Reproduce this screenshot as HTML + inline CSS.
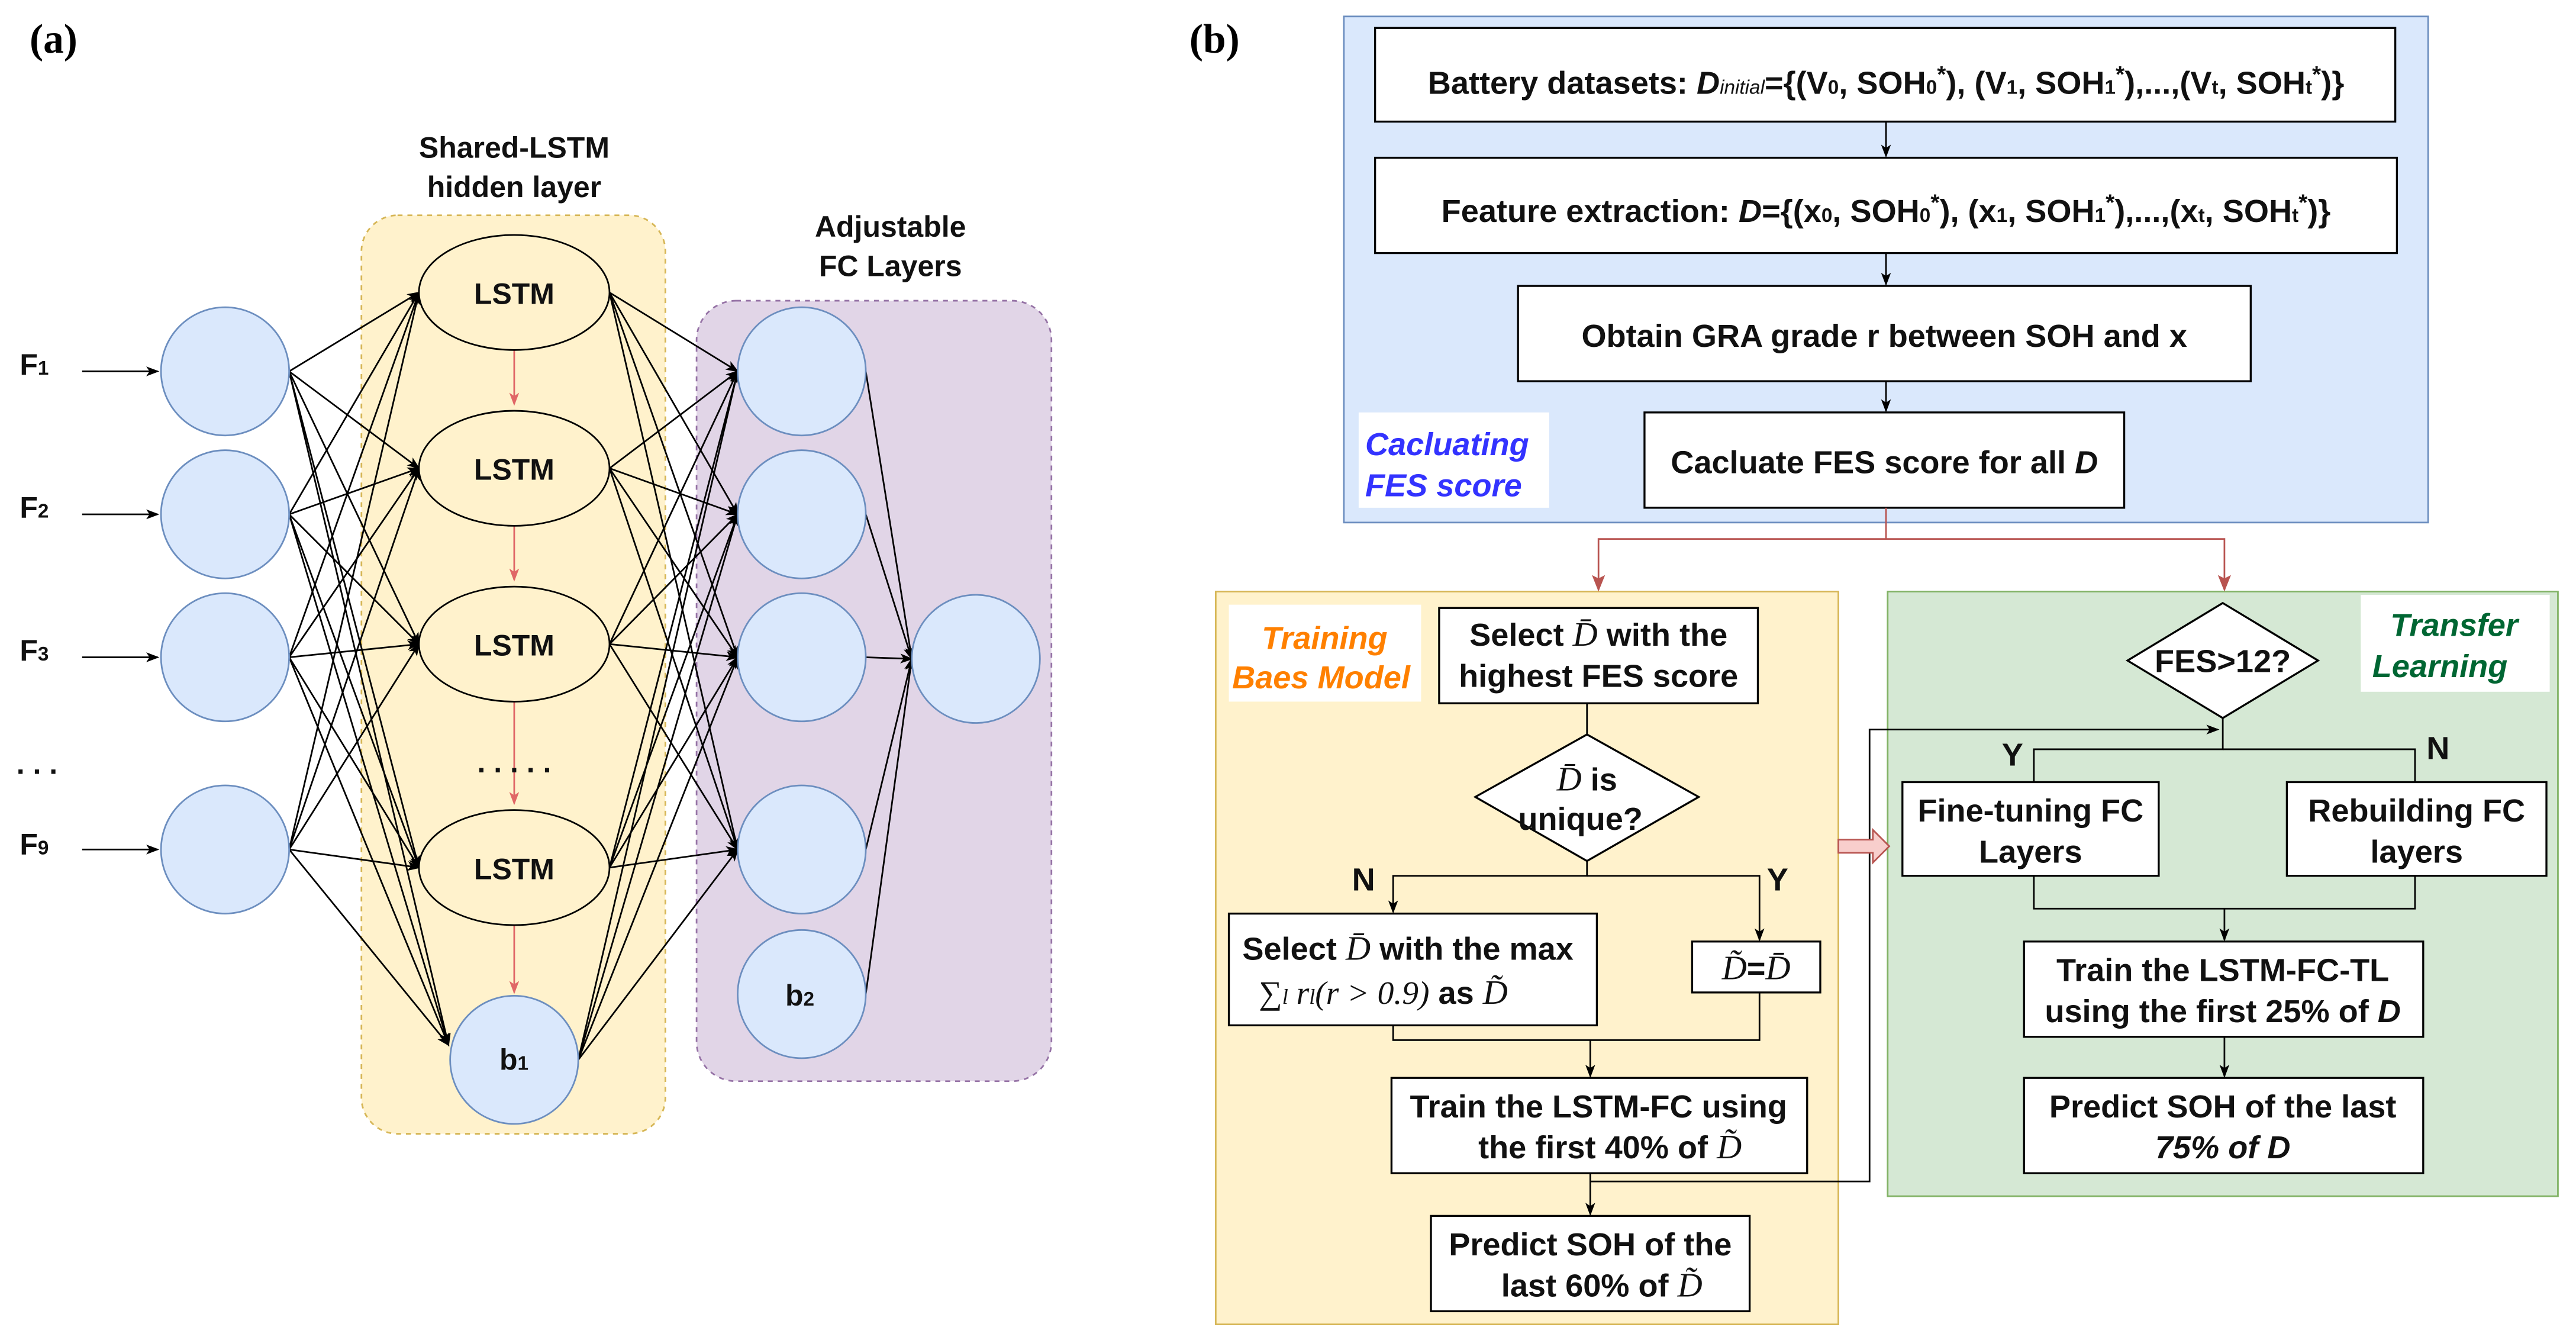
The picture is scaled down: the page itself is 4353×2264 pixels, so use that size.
<!DOCTYPE html>
<html><head><meta charset="utf-8"><style>
html,body{margin:0;padding:0;background:#fff}
svg{display:block}
text{font-family:"Liberation Sans",sans-serif}
.b{font-weight:bold;font-size:18px;fill:#111}
.c{font-weight:bold;font-size:19.5px;fill:#111}
.m{font-family:"Liberation Serif",serif;font-style:italic;font-weight:normal}
</style></head><body>
<svg id="s" width="4353" height="2264" viewBox="0 0 1568 815.5" xmlns="http://www.w3.org/2000/svg">
<defs>
<marker id="a" markerWidth="8" markerHeight="8" refX="7" refY="4" orient="auto" markerUnits="userSpaceOnUse"><path d="M0,1 L8,4 L0,7 L2,4z" fill="#000"/></marker>
<marker id="r" markerWidth="8" markerHeight="8" refX="7" refY="4" orient="auto" markerUnits="userSpaceOnUse"><path d="M0,1 L8,4 L0,7 L2,4z" fill="#e06666"/></marker>
<marker id="rr" markerWidth="10" markerHeight="10" refX="9" refY="5" orient="auto" markerUnits="userSpaceOnUse"><path d="M0,1 L10,5 L0,9 L2,5z" fill="#b85450"/></marker>
</defs>
<text x="18" y="32" style="font-family:'Liberation Serif',serif;font-size:25px;font-weight:bold">(a)</text>
<text x="724" y="32" style="font-family:'Liberation Serif',serif;font-size:25px;font-weight:bold">(b)</text>
<rect x="220" y="131" width="185" height="559" rx="22" fill="#fff2cc" stroke="#d6b656" stroke-dasharray="3,3"/>
<rect x="424" y="183" width="216" height="475" rx="24" fill="#e1d5e7" stroke="#9673a6" stroke-dasharray="3,3"/>
<text class="b" x="313" y="96" text-anchor="middle">Shared-LSTM</text>
<text class="b" x="313" y="120" text-anchor="middle">hidden layer</text>
<text class="b" x="542" y="144" text-anchor="middle">Adjustable</text>
<text class="b" x="542" y="168" text-anchor="middle">FC Layers</text>
<g id="net"></g>
<g class="b">
<text x="12" y="228">F<tspan font-size="12">1</tspan></text>
<text x="12" y="315">F<tspan font-size="12">2</tspan></text>
<text x="12" y="402">F<tspan font-size="12">3</tspan></text>
<text x="10" y="471">. . .</text>
<text x="12" y="520">F<tspan font-size="12">9</tspan></text>
</g>
<rect x="818" y="10" width="660" height="308" fill="#dae8fc" stroke="#6c8ebf"/>
<rect x="740" y="360" width="379" height="446" fill="#fff2cc" stroke="#d6b656"/>
<rect x="1149" y="360" width="408" height="368" fill="#d5e8d4" stroke="#82b366"/>
<g fill="#fff" stroke="#000" stroke-width="1.2">
<rect x="837" y="17" width="621" height="57"/>
<rect x="837" y="96" width="622" height="58"/>
<rect x="924" y="174" width="446" height="58"/>
<rect x="1001" y="251" width="292" height="58"/>
<rect x="876" y="370" width="194" height="58"/>
<polygon points="966,447 1034,485 966,524 898,485"/>
<rect x="748" y="556" width="224" height="68"/>
<rect x="1030" y="573" width="78" height="31"/>
<rect x="847" y="656" width="253" height="58"/>
<rect x="871" y="740" width="194" height="58"/>
<polygon points="1353,367 1411,402 1353,437 1295,402"/>
<rect x="1158" y="476" width="156" height="57"/>
<rect x="1392" y="476" width="158" height="57"/>
<rect x="1232" y="573" width="243" height="58"/>
<rect x="1232" y="656" width="243" height="58"/>
</g>
<rect x="827" y="251" width="116" height="58" fill="#fff"/>
<rect x="748" y="368" width="117" height="59" fill="#fff"/>
<rect x="1437" y="362" width="115" height="59" fill="#fff"/>
<g stroke="#000" fill="none" stroke-width="1">
<path d="M1148,74V95" marker-end="url(#a)"/>
<path d="M1148,154V173" marker-end="url(#a)"/>
<path d="M1148,232V250" marker-end="url(#a)"/>
<path d="M966,428V447"/>
<path d="M966,524V533H848V555" marker-end="url(#a)"/>
<path d="M966,533H1071V572" marker-end="url(#a)"/>
<path d="M848,624V633H1071V604"/>
<path d="M968,633V655" marker-end="url(#a)"/>
<path d="M968,714V739" marker-end="url(#a)"/>
<path d="M968,719H1138V444H1350" marker-end="url(#a)"/>
<path d="M1353,437V456H1238V476"/>
<path d="M1353,456H1470V476"/>
<path d="M1238,533V553H1470V533"/>
<path d="M1354,553V572" marker-end="url(#a)"/>
<path d="M1354,631V655" marker-end="url(#a)"/>
</g>
<g stroke="#b85450" fill="none" stroke-width="1">
<path d="M1148,309V328H973V359" marker-end="url(#rr)"/>
<path d="M1148,328H1354V359" marker-end="url(#rr)"/>
</g>
<polygon points="1119,511 1140,511 1140,505 1150,515 1140,525 1140,519 1119,519" fill="#f8cecc" stroke="#b85450"/>
<g class="c" text-anchor="middle">
<text x="1148" y="57">Battery datasets: <tspan font-style="italic">D<tspan font-size="12" font-weight="normal">initial</tspan></tspan>={(V<tspan font-size="12">0</tspan>, SOH<tspan font-size="12">0</tspan><tspan dy="-7" font-size="14">*</tspan><tspan dy="7">), (V</tspan><tspan font-size="12">1</tspan>, SOH<tspan font-size="12">1</tspan><tspan dy="-7" font-size="14">*</tspan><tspan dy="7">),...,(V</tspan><tspan font-size="12">t</tspan>, SOH<tspan font-size="12">t</tspan><tspan dy="-7" font-size="14">*</tspan><tspan dy="7">)}</tspan></text>
<text x="1148" y="135">Feature extraction: <tspan font-style="italic">D</tspan>={(x<tspan font-size="12">0</tspan>, SOH<tspan font-size="12">0</tspan><tspan dy="-7" font-size="14">*</tspan><tspan dy="7">), (x</tspan><tspan font-size="12">1</tspan>, SOH<tspan font-size="12">1</tspan><tspan dy="-7" font-size="14">*</tspan><tspan dy="7">),...,(x</tspan><tspan font-size="12">t</tspan>, SOH<tspan font-size="12">t</tspan><tspan dy="-7" font-size="14">*</tspan><tspan dy="7">)}</tspan></text>
<text x="1147" y="211">Obtain GRA grade r between SOH and x</text>
<text x="1147" y="288">Cacluate FES score for all <tspan font-style="italic">D</tspan></text>
<text x="973" y="393">Select <tspan class="m" font-size="21">D̄</tspan> with the</text>
<text x="973" y="418">highest FES score</text>
<text x="966" y="481"><tspan class="m" font-size="21">D̄</tspan>  is</text>
<text x="962" y="505">unique?</text>
<text x="857" y="584">Select <tspan class="m" font-size="21">D̄</tspan> with the max</text>
<text x="842" y="611"><tspan class="m" font-size="20" font-style="normal">∑</tspan><tspan class="m" font-size="13">l</tspan><tspan class="m" font-size="20"> r</tspan><tspan class="m" font-size="13">l</tspan><tspan class="m" font-size="20" font-style="normal">(</tspan><tspan class="m" font-size="20">r</tspan><tspan class="m" font-size="20" font-style="normal"> &gt; 0.9)</tspan> as <tspan class="m" font-size="21">D̃</tspan></text>
<text x="1069" y="596"><tspan class="m" font-size="21">D̃</tspan>=<tspan class="m" font-size="21">D̄</tspan></text>
<text x="973" y="680">Train the LSTM-FC using</text>
<text x="980" y="705">the first 40% of  <tspan class="m" font-size="21">D̃</tspan></text>
<text x="968" y="764">Predict SOH of the</text>
<text x="975" y="789">last 60% of <tspan class="m" font-size="21">D̃</tspan></text>
<text x="1353" y="409">FES&gt;12?</text>
<text x="1236" y="500">Fine-tuning FC</text>
<text x="1236" y="525">Layers</text>
<text x="1471" y="500">Rebuilding FC</text>
<text x="1471" y="525">layers</text>
<text x="1353" y="597">Train the LSTM-FC-TL</text>
<text x="1353" y="622">using the first 25% of <tspan font-style="italic">D</tspan></text>
<text x="1353" y="680">Predict SOH of the last</text>
<text x="1353" y="705"><tspan font-style="italic">75% of D</tspan></text>
<text x="830" y="542">N</text>
<text x="1082" y="542">Y</text>
<text x="1225" y="466">Y</text>
<text x="1484" y="462">N</text>
</g>
<g class="c" font-style="italic" font-size="19.5">
<text x="831" y="277" fill="#3333ff">Cacluating</text>
<text x="831" y="302" fill="#3333ff">FES score</text>
<text x="768" y="395" fill="#ff8000">Training</text>
<text x="750" y="419" fill="#ff8000">Baes Model</text>
<text x="1455" y="387" fill="#006633">Transfer</text>
<text x="1444" y="412" fill="#006633">Learning</text>
</g>
</svg>
<script>
(function(){
var NS="http://www.w3.org/2000/svg",g=document.getElementById("net");
function el(t,a){var e=document.createElementNS(NS,t);for(var k in a)e.setAttribute(k,a[k]);g.appendChild(e);return e;}
function ln(x1,y1,x2,y2,m,c){el("line",{x1:x1,y1:y1,x2:x2,y2:y2,stroke:c||"#000","stroke-width":1,"marker-end":"url(#"+(m||"a")+")"});}
var inY=[226,313,400,517],lY=[178,285,392,528],fY=[226,313,400,517];
inY.forEach(function(y){ln(50,y,96,y);});
inY.forEach(function(y){lY.forEach(function(t){ln(176,y,255,t);});ln(176,y,273,636);});
var src=lY.map(function(y){return[371,y];});src.push([352,645]);
src.forEach(function(s){fY.forEach(function(t){ln(s[0],s[1],449,t);});});
[226,313,400,517,605].forEach(function(y){ln(527,y,555,401);});
ln(313,213,313,246,"r","#e06666");ln(313,320,313,353,"r","#e06666");ln(313,427,313,489,"r","#e06666");ln(313,563,313,604,"r","#e06666");
inY.forEach(function(y){el("ellipse",{cx:137,cy:y,rx:39,ry:39,fill:"#dae8fc",stroke:"#6c8ebf"});});
lY.forEach(function(y){el("ellipse",{cx:313,cy:y,rx:58,ry:35,fill:"#fff2cc",stroke:"#000"});var t=el("text",{x:313,y:y+7,"text-anchor":"middle","class":"b","font-size":"19"});t.textContent="LSTM";});
el("ellipse",{cx:313,cy:645,rx:39,ry:39,fill:"#dae8fc",stroke:"#6c8ebf"});
[226,313,400,517,605].forEach(function(y){el("ellipse",{cx:488,cy:y,rx:39,ry:39,fill:"#dae8fc",stroke:"#6c8ebf"});});
el("ellipse",{cx:594,cy:401,rx:39,ry:39,fill:"#dae8fc",stroke:"#6c8ebf"});
var t=el("text",{x:304,y:651,"class":"b"});t.innerHTML='b<tspan font-size="12">1</tspan>';
t=el("text",{x:478,y:612,"class":"b"});t.innerHTML='b<tspan font-size="12">2</tspan>';
t=el("text",{x:313,y:470,"text-anchor":"middle","class":"b"});t.textContent=". . . . .";
})();
</script>
</body></html>
